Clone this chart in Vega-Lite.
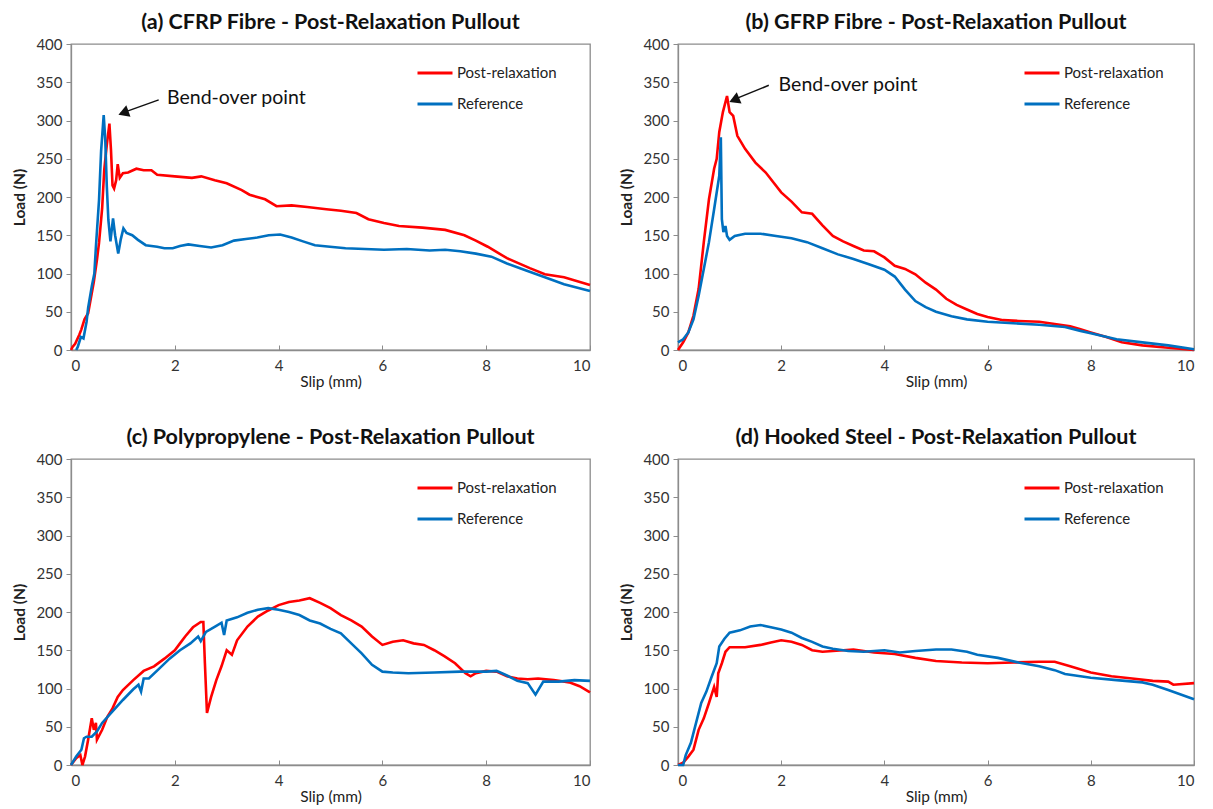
{
"$schema": "https://vega.github.io/schema/vega-lite/v6.json",
"padding": {"left": 12, "top": 10, "right": 5, "bottom": 5},
"background": "white",
"config": {
  "font": "Lato",
  "view": {"stroke": "#8c8c8c", "strokeWidth": 1.3},
  "axis": {"grid": false, "domainColor": "#8c8c8c", "domainWidth": 1.3, "tickColor": "#8c8c8c", "labelFont": "Lato", "labelFontSize": 15, "labelColor": "#333333", "titleFont": "Lato", "titleFontSize": 15.5, "titleColor": "#222222"},
  "axisX": {"tickSize": -5, "labelPadding": 13, "titleFontWeight": "normal", "titlePadding": 1},
  "axisY": {"tickSize": 5, "labelPadding": 4, "titleFontWeight": "bold", "titlePadding": 8},
  "title": {"font": "Lato", "fontSize": 21.5, "fontWeight": "bold", "color": "#111111", "offset": 4, "frame": "group", "anchor": "middle"},
  "legend": {"orient": "none", "symbolType": "stroke", "symbolSize": 1225, "symbolStrokeWidth": 3, "labelFont": "Lato", "labelFontSize": 15, "labelColor": "#222222", "rowPadding": 4, "padding": 0, "labelOffset": 3, "legendX": 345, "legendY": 10, "title": null}
},
"datasets": {
"a": [
{"series":"Post-relaxation","slip":0,"load":0},{"series":"Post-relaxation","slip":0.03,"load":4},{"series":"Post-relaxation","slip":0.08,"load":8},{"series":"Post-relaxation","slip":0.16,"load":20},{"series":"Post-relaxation","slip":0.2,"load":27},{"series":"Post-relaxation","slip":0.26,"load":40},{"series":"Post-relaxation","slip":0.33,"load":48},{"series":"Post-relaxation","slip":0.4,"load":74},{"series":"Post-relaxation","slip":0.44,"load":89},{"series":"Post-relaxation","slip":0.5,"load":118},{"series":"Post-relaxation","slip":0.54,"load":140},{"series":"Post-relaxation","slip":0.6,"load":185},{"series":"Post-relaxation","slip":0.64,"load":235},{"series":"Post-relaxation","slip":0.69,"load":268},{"series":"Post-relaxation","slip":0.74,"load":296},{"series":"Post-relaxation","slip":0.77,"load":262},{"series":"Post-relaxation","slip":0.8,"load":215},{"series":"Post-relaxation","slip":0.83,"load":211},{"series":"Post-relaxation","slip":0.87,"load":222},{"series":"Post-relaxation","slip":0.9,"load":243},{"series":"Post-relaxation","slip":0.94,"load":225},{"series":"Post-relaxation","slip":1.0,"load":231},{"series":"Post-relaxation","slip":1.1,"load":232},{"series":"Post-relaxation","slip":1.26,"load":237},{"series":"Post-relaxation","slip":1.4,"load":235},{"series":"Post-relaxation","slip":1.55,"load":235},{"series":"Post-relaxation","slip":1.66,"load":229},{"series":"Post-relaxation","slip":2.0,"load":227},{"series":"Post-relaxation","slip":2.33,"load":225},{"series":"Post-relaxation","slip":2.51,"load":227},{"series":"Post-relaxation","slip":2.77,"load":222},{"series":"Post-relaxation","slip":3.0,"load":218},{"series":"Post-relaxation","slip":3.29,"load":209},{"series":"Post-relaxation","slip":3.44,"load":203},{"series":"Post-relaxation","slip":3.74,"load":197},{"series":"Post-relaxation","slip":3.96,"load":188},{"series":"Post-relaxation","slip":4.25,"load":189},{"series":"Post-relaxation","slip":4.55,"load":187},{"series":"Post-relaxation","slip":4.92,"load":184},{"series":"Post-relaxation","slip":5.2,"load":182},{"series":"Post-relaxation","slip":5.5,"load":179},{"series":"Post-relaxation","slip":5.73,"load":171},{"series":"Post-relaxation","slip":6.03,"load":166},{"series":"Post-relaxation","slip":6.32,"load":162},{"series":"Post-relaxation","slip":6.77,"load":160},{"series":"Post-relaxation","slip":7.21,"load":157},{"series":"Post-relaxation","slip":7.58,"load":150},{"series":"Post-relaxation","slip":7.8,"load":143},{"series":"Post-relaxation","slip":8.03,"load":135},{"series":"Post-relaxation","slip":8.4,"load":120},{"series":"Post-relaxation","slip":8.84,"load":107},{"series":"Post-relaxation","slip":9.13,"load":99},{"series":"Post-relaxation","slip":9.5,"load":95},{"series":"Post-relaxation","slip":10,"load":85},
{"series":"Reference","slip":0.1,"load":0},{"series":"Reference","slip":0.13,"load":4},{"series":"Reference","slip":0.19,"load":17},{"series":"Reference","slip":0.24,"load":15},{"series":"Reference","slip":0.3,"load":37},{"series":"Reference","slip":0.33,"load":55},{"series":"Reference","slip":0.4,"load":83},{"series":"Reference","slip":0.45,"load":100},{"series":"Reference","slip":0.48,"load":135},{"series":"Reference","slip":0.54,"load":196},{"series":"Reference","slip":0.58,"load":260},{"series":"Reference","slip":0.63,"load":307},{"series":"Reference","slip":0.66,"load":275},{"series":"Reference","slip":0.69,"load":214},{"series":"Reference","slip":0.72,"load":170},{"series":"Reference","slip":0.76,"load":142},{"series":"Reference","slip":0.81,"load":172},{"series":"Reference","slip":0.85,"load":150},{"series":"Reference","slip":0.91,"load":126},{"series":"Reference","slip":0.96,"load":145},{"series":"Reference","slip":1.01,"load":159},{"series":"Reference","slip":1.07,"load":153},{"series":"Reference","slip":1.18,"load":150},{"series":"Reference","slip":1.29,"load":144},{"series":"Reference","slip":1.44,"load":137},{"series":"Reference","slip":1.66,"load":135},{"series":"Reference","slip":1.8,"load":133},{"series":"Reference","slip":1.96,"load":133},{"series":"Reference","slip":2.1,"load":136},{"series":"Reference","slip":2.26,"load":138},{"series":"Reference","slip":2.48,"load":136},{"series":"Reference","slip":2.7,"load":134},{"series":"Reference","slip":2.92,"load":137},{"series":"Reference","slip":3.14,"load":143},{"series":"Reference","slip":3.37,"load":145},{"series":"Reference","slip":3.59,"load":147},{"series":"Reference","slip":3.81,"load":150},{"series":"Reference","slip":4.03,"load":151},{"series":"Reference","slip":4.25,"load":147},{"series":"Reference","slip":4.47,"load":142},{"series":"Reference","slip":4.7,"load":137},{"series":"Reference","slip":4.99,"load":135},{"series":"Reference","slip":5.29,"load":133},{"series":"Reference","slip":5.66,"load":132},{"series":"Reference","slip":6.03,"load":131},{"series":"Reference","slip":6.47,"load":132},{"series":"Reference","slip":6.91,"load":130},{"series":"Reference","slip":7.21,"load":131},{"series":"Reference","slip":7.5,"load":129},{"series":"Reference","slip":7.8,"load":126},{"series":"Reference","slip":8.1,"load":122},{"series":"Reference","slip":8.4,"load":113},{"series":"Reference","slip":8.77,"load":104},{"series":"Reference","slip":9.13,"load":95},{"series":"Reference","slip":9.5,"load":86},{"series":"Reference","slip":10,"load":77}
],
"b": [
{"series":"Post-relaxation","slip":0,"load":0},{"series":"Post-relaxation","slip":0.1,"load":10},{"series":"Post-relaxation","slip":0.2,"load":23},{"series":"Post-relaxation","slip":0.3,"load":45},{"series":"Post-relaxation","slip":0.4,"load":80},{"series":"Post-relaxation","slip":0.5,"load":141},{"series":"Post-relaxation","slip":0.6,"load":197},{"series":"Post-relaxation","slip":0.7,"load":237},{"series":"Post-relaxation","slip":0.75,"load":250},{"series":"Post-relaxation","slip":0.8,"load":285},{"series":"Post-relaxation","slip":0.87,"load":311},{"series":"Post-relaxation","slip":0.95,"load":332},{"series":"Post-relaxation","slip":1.0,"load":311},{"series":"Post-relaxation","slip":1.07,"load":306},{"series":"Post-relaxation","slip":1.15,"load":280},{"series":"Post-relaxation","slip":1.3,"load":263},{"series":"Post-relaxation","slip":1.5,"load":245},{"series":"Post-relaxation","slip":1.7,"load":232},{"series":"Post-relaxation","slip":2.0,"load":206},{"series":"Post-relaxation","slip":2.2,"load":194},{"series":"Post-relaxation","slip":2.4,"load":180},{"series":"Post-relaxation","slip":2.6,"load":178},{"series":"Post-relaxation","slip":2.8,"load":163},{"series":"Post-relaxation","slip":3.0,"load":149},{"series":"Post-relaxation","slip":3.2,"load":142},{"series":"Post-relaxation","slip":3.4,"load":136},{"series":"Post-relaxation","slip":3.6,"load":130},{"series":"Post-relaxation","slip":3.8,"load":129},{"series":"Post-relaxation","slip":4.0,"load":121},{"series":"Post-relaxation","slip":4.2,"load":110},{"series":"Post-relaxation","slip":4.4,"load":106},{"series":"Post-relaxation","slip":4.6,"load":99},{"series":"Post-relaxation","slip":4.8,"load":88},{"series":"Post-relaxation","slip":5.0,"load":79},{"series":"Post-relaxation","slip":5.2,"load":67},{"series":"Post-relaxation","slip":5.4,"load":59},{"series":"Post-relaxation","slip":5.6,"load":53},{"series":"Post-relaxation","slip":5.8,"load":47},{"series":"Post-relaxation","slip":6.0,"load":43},{"series":"Post-relaxation","slip":6.3,"load":39},{"series":"Post-relaxation","slip":6.6,"load":38},{"series":"Post-relaxation","slip":7.0,"load":37},{"series":"Post-relaxation","slip":7.3,"load":34},{"series":"Post-relaxation","slip":7.6,"load":31},{"series":"Post-relaxation","slip":7.8,"load":27},{"series":"Post-relaxation","slip":8.0,"load":23},{"series":"Post-relaxation","slip":8.3,"load":17},{"series":"Post-relaxation","slip":8.6,"load":10},{"series":"Post-relaxation","slip":9.0,"load":6},{"series":"Post-relaxation","slip":9.5,"load":3},{"series":"Post-relaxation","slip":10,"load":0},
{"series":"Reference","slip":0,"load":10},{"series":"Reference","slip":0.1,"load":14},{"series":"Reference","slip":0.2,"load":23},{"series":"Reference","slip":0.3,"load":40},{"series":"Reference","slip":0.4,"load":71},{"series":"Reference","slip":0.5,"load":106},{"series":"Reference","slip":0.6,"load":141},{"series":"Reference","slip":0.7,"load":184},{"series":"Reference","slip":0.8,"load":228},{"series":"Reference","slip":0.83,"load":278},{"series":"Reference","slip":0.85,"load":171},{"series":"Reference","slip":0.88,"load":154},{"series":"Reference","slip":0.92,"load":162},{"series":"Reference","slip":0.95,"load":149},{"series":"Reference","slip":1.0,"load":144},{"series":"Reference","slip":1.1,"load":149},{"series":"Reference","slip":1.3,"load":152},{"series":"Reference","slip":1.6,"load":152},{"series":"Reference","slip":1.9,"load":149},{"series":"Reference","slip":2.2,"load":146},{"series":"Reference","slip":2.5,"load":141},{"series":"Reference","slip":2.8,"load":133},{"series":"Reference","slip":3.1,"load":125},{"series":"Reference","slip":3.4,"load":119},{"series":"Reference","slip":3.7,"load":112},{"series":"Reference","slip":4.0,"load":105},{"series":"Reference","slip":4.2,"load":96},{"series":"Reference","slip":4.4,"load":79},{"series":"Reference","slip":4.6,"load":64},{"series":"Reference","slip":4.8,"load":56},{"series":"Reference","slip":5.0,"load":50},{"series":"Reference","slip":5.3,"load":44},{"series":"Reference","slip":5.6,"load":40},{"series":"Reference","slip":6.0,"load":37},{"series":"Reference","slip":6.5,"load":35},{"series":"Reference","slip":7.0,"load":33},{"series":"Reference","slip":7.5,"load":30},{"series":"Reference","slip":7.8,"load":25},{"series":"Reference","slip":8.0,"load":22},{"series":"Reference","slip":8.5,"load":14},{"series":"Reference","slip":9.0,"load":10},{"series":"Reference","slip":9.5,"load":6},{"series":"Reference","slip":10,"load":1}
],
"c": [
{"series":"Post-relaxation","slip":0,"load":0},{"series":"Post-relaxation","slip":0.1,"load":9},{"series":"Post-relaxation","slip":0.18,"load":13},{"series":"Post-relaxation","slip":0.22,"load":0},{"series":"Post-relaxation","slip":0.27,"load":11},{"series":"Post-relaxation","slip":0.33,"load":33},{"series":"Post-relaxation","slip":0.4,"load":61},{"series":"Post-relaxation","slip":0.44,"load":46},{"series":"Post-relaxation","slip":0.48,"load":55},{"series":"Post-relaxation","slip":0.5,"load":33},{"series":"Post-relaxation","slip":0.6,"load":46},{"series":"Post-relaxation","slip":0.7,"load":63},{"series":"Post-relaxation","slip":0.8,"load":74},{"series":"Post-relaxation","slip":0.9,"load":89},{"series":"Post-relaxation","slip":1.0,"load":98},{"series":"Post-relaxation","slip":1.2,"load":111},{"series":"Post-relaxation","slip":1.4,"load":123},{"series":"Post-relaxation","slip":1.6,"load":129},{"series":"Post-relaxation","slip":1.8,"load":139},{"series":"Post-relaxation","slip":2.0,"load":150},{"series":"Post-relaxation","slip":2.1,"load":159},{"series":"Post-relaxation","slip":2.2,"load":168},{"series":"Post-relaxation","slip":2.35,"load":180},{"series":"Post-relaxation","slip":2.5,"load":187},{"series":"Post-relaxation","slip":2.55,"load":187},{"series":"Post-relaxation","slip":2.58,"load":133},{"series":"Post-relaxation","slip":2.62,"load":68},{"series":"Post-relaxation","slip":2.7,"load":89},{"series":"Post-relaxation","slip":2.8,"load":111},{"series":"Post-relaxation","slip":2.9,"load":129},{"series":"Post-relaxation","slip":3.0,"load":150},{"series":"Post-relaxation","slip":3.1,"load":144},{"series":"Post-relaxation","slip":3.2,"load":163},{"series":"Post-relaxation","slip":3.4,"load":181},{"series":"Post-relaxation","slip":3.6,"load":194},{"series":"Post-relaxation","slip":3.8,"load":202},{"series":"Post-relaxation","slip":4.0,"load":209},{"series":"Post-relaxation","slip":4.2,"load":213},{"series":"Post-relaxation","slip":4.4,"load":215},{"series":"Post-relaxation","slip":4.6,"load":218},{"series":"Post-relaxation","slip":4.8,"load":212},{"series":"Post-relaxation","slip":5.0,"load":205},{"series":"Post-relaxation","slip":5.2,"load":196},{"series":"Post-relaxation","slip":5.4,"load":189},{"series":"Post-relaxation","slip":5.6,"load":181},{"series":"Post-relaxation","slip":5.8,"load":168},{"series":"Post-relaxation","slip":6.0,"load":157},{"series":"Post-relaxation","slip":6.2,"load":161},{"series":"Post-relaxation","slip":6.4,"load":163},{"series":"Post-relaxation","slip":6.6,"load":159},{"series":"Post-relaxation","slip":6.8,"load":157},{"series":"Post-relaxation","slip":7.0,"load":150},{"series":"Post-relaxation","slip":7.2,"load":142},{"series":"Post-relaxation","slip":7.4,"load":133},{"series":"Post-relaxation","slip":7.6,"load":120},{"series":"Post-relaxation","slip":7.7,"load":116},{"series":"Post-relaxation","slip":7.8,"load":120},{"series":"Post-relaxation","slip":8.0,"load":123},{"series":"Post-relaxation","slip":8.2,"load":122},{"series":"Post-relaxation","slip":8.4,"load":116},{"series":"Post-relaxation","slip":8.6,"load":113},{"series":"Post-relaxation","slip":8.8,"load":112},{"series":"Post-relaxation","slip":9.0,"load":113},{"series":"Post-relaxation","slip":9.3,"load":111},{"series":"Post-relaxation","slip":9.6,"load":108},{"series":"Post-relaxation","slip":9.8,"load":103},{"series":"Post-relaxation","slip":10,"load":95},
{"series":"Reference","slip":0,"load":0},{"series":"Reference","slip":0.1,"load":11},{"series":"Reference","slip":0.2,"load":20},{"series":"Reference","slip":0.25,"load":35},{"series":"Reference","slip":0.3,"load":37},{"series":"Reference","slip":0.4,"load":37},{"series":"Reference","slip":0.5,"load":44},{"series":"Reference","slip":0.6,"load":55},{"series":"Reference","slip":0.8,"load":70},{"series":"Reference","slip":1.0,"load":85},{"series":"Reference","slip":1.2,"load":99},{"series":"Reference","slip":1.3,"load":105},{"series":"Reference","slip":1.35,"load":96},{"series":"Reference","slip":1.4,"load":113},{"series":"Reference","slip":1.5,"load":113},{"series":"Reference","slip":1.7,"load":126},{"series":"Reference","slip":1.9,"load":139},{"series":"Reference","slip":2.1,"load":150},{"series":"Reference","slip":2.3,"load":159},{"series":"Reference","slip":2.45,"load":168},{"series":"Reference","slip":2.5,"load":162},{"series":"Reference","slip":2.6,"load":174},{"series":"Reference","slip":2.8,"load":182},{"series":"Reference","slip":2.9,"load":186},{"series":"Reference","slip":2.95,"load":170},{"series":"Reference","slip":3.0,"load":189},{"series":"Reference","slip":3.2,"load":193},{"series":"Reference","slip":3.4,"load":199},{"series":"Reference","slip":3.6,"load":203},{"series":"Reference","slip":3.8,"load":205},{"series":"Reference","slip":4.0,"load":203},{"series":"Reference","slip":4.2,"load":200},{"series":"Reference","slip":4.4,"load":196},{"series":"Reference","slip":4.6,"load":189},{"series":"Reference","slip":4.8,"load":185},{"series":"Reference","slip":5.0,"load":178},{"series":"Reference","slip":5.2,"load":172},{"series":"Reference","slip":5.4,"load":159},{"series":"Reference","slip":5.6,"load":146},{"series":"Reference","slip":5.8,"load":131},{"series":"Reference","slip":6.0,"load":122},{"series":"Reference","slip":6.2,"load":121},{"series":"Reference","slip":6.5,"load":120},{"series":"Reference","slip":7.0,"load":121},{"series":"Reference","slip":7.5,"load":122},{"series":"Reference","slip":8.0,"load":122},{"series":"Reference","slip":8.2,"load":123},{"series":"Reference","slip":8.4,"load":117},{"series":"Reference","slip":8.6,"load":110},{"series":"Reference","slip":8.8,"load":107},{"series":"Reference","slip":8.95,"load":92},{"series":"Reference","slip":9.1,"load":109},{"series":"Reference","slip":9.4,"load":109},{"series":"Reference","slip":9.7,"load":111},{"series":"Reference","slip":10,"load":110}
],
"d": [
{"series":"Post-relaxation","slip":0,"load":0},{"series":"Post-relaxation","slip":0.1,"load":3},{"series":"Post-relaxation","slip":0.2,"load":11},{"series":"Post-relaxation","slip":0.3,"load":20},{"series":"Post-relaxation","slip":0.4,"load":46},{"series":"Post-relaxation","slip":0.5,"load":61},{"series":"Post-relaxation","slip":0.6,"load":81},{"series":"Post-relaxation","slip":0.7,"load":102},{"series":"Post-relaxation","slip":0.75,"load":89},{"series":"Post-relaxation","slip":0.78,"load":120},{"series":"Post-relaxation","slip":0.85,"load":133},{"series":"Post-relaxation","slip":0.92,"load":148},{"series":"Post-relaxation","slip":1.0,"load":154},{"series":"Post-relaxation","slip":1.3,"load":154},{"series":"Post-relaxation","slip":1.6,"load":157},{"series":"Post-relaxation","slip":1.8,"load":160},{"series":"Post-relaxation","slip":2.0,"load":163},{"series":"Post-relaxation","slip":2.2,"load":161},{"series":"Post-relaxation","slip":2.4,"load":157},{"series":"Post-relaxation","slip":2.6,"load":150},{"series":"Post-relaxation","slip":2.8,"load":148},{"series":"Post-relaxation","slip":3.0,"load":149},{"series":"Post-relaxation","slip":3.4,"load":151},{"series":"Post-relaxation","slip":3.8,"load":147},{"series":"Post-relaxation","slip":4.2,"load":145},{"series":"Post-relaxation","slip":4.6,"load":140},{"series":"Post-relaxation","slip":5.0,"load":136},{"series":"Post-relaxation","slip":5.5,"load":134},{"series":"Post-relaxation","slip":6.0,"load":133},{"series":"Post-relaxation","slip":6.5,"load":134},{"series":"Post-relaxation","slip":7.0,"load":135},{"series":"Post-relaxation","slip":7.3,"load":135},{"series":"Post-relaxation","slip":7.6,"load":129},{"series":"Post-relaxation","slip":8.0,"load":121},{"series":"Post-relaxation","slip":8.4,"load":116},{"series":"Post-relaxation","slip":8.8,"load":113},{"series":"Post-relaxation","slip":9.2,"load":110},{"series":"Post-relaxation","slip":9.5,"load":109},{"series":"Post-relaxation","slip":9.6,"load":105},{"series":"Post-relaxation","slip":10,"load":107},
{"series":"Reference","slip":0,"load":0},{"series":"Reference","slip":0.1,"load":0},{"series":"Reference","slip":0.15,"load":13},{"series":"Reference","slip":0.25,"load":29},{"series":"Reference","slip":0.35,"load":55},{"series":"Reference","slip":0.45,"load":81},{"series":"Reference","slip":0.55,"load":96},{"series":"Reference","slip":0.65,"load":115},{"series":"Reference","slip":0.75,"load":133},{"series":"Reference","slip":0.8,"load":155},{"series":"Reference","slip":0.9,"load":165},{"series":"Reference","slip":1.0,"load":173},{"series":"Reference","slip":1.2,"load":176},{"series":"Reference","slip":1.4,"load":181},{"series":"Reference","slip":1.6,"load":183},{"series":"Reference","slip":1.8,"load":180},{"series":"Reference","slip":2.0,"load":177},{"series":"Reference","slip":2.2,"load":173},{"series":"Reference","slip":2.4,"load":166},{"series":"Reference","slip":2.6,"load":161},{"series":"Reference","slip":2.8,"load":155},{"series":"Reference","slip":3.0,"load":152},{"series":"Reference","slip":3.3,"load":149},{"series":"Reference","slip":3.6,"load":148},{"series":"Reference","slip":4.0,"load":150},{"series":"Reference","slip":4.3,"load":147},{"series":"Reference","slip":4.6,"load":149},{"series":"Reference","slip":5.0,"load":151},{"series":"Reference","slip":5.3,"load":151},{"series":"Reference","slip":5.6,"load":148},{"series":"Reference","slip":5.8,"load":144},{"series":"Reference","slip":6.2,"load":140},{"series":"Reference","slip":6.6,"load":134},{"series":"Reference","slip":7.0,"load":129},{"series":"Reference","slip":7.3,"load":124},{"series":"Reference","slip":7.5,"load":119},{"series":"Reference","slip":7.8,"load":116},{"series":"Reference","slip":8.0,"load":114},{"series":"Reference","slip":8.5,"load":111},{"series":"Reference","slip":9.0,"load":108},{"series":"Reference","slip":9.2,"load":105},{"series":"Reference","slip":9.5,"load":98},{"series":"Reference","slip":10,"load":86}
]
},
"columns": 2,
"spacing": {"row": 34, "column": 23},
"resolve": {"scale": {"color": "independent"}, "legend": {"color": "independent"}},
"concat": [
{
 "width": 519, "height": 306,
 "title": {"text": "(a)  CFRP Fibre - Post-Relaxation Pullout"},
 "encoding": {
  "x": {"field": "slip", "type": "quantitative", "scale": {"domain": [0, 10], "nice": false}, "axis": {"values": [0, 2, 4, 6, 8, 10]}, "title": "Slip (mm)"},
  "y": {"field": "load", "type": "quantitative", "scale": {"domain": [0, 400], "nice": false}, "axis": {"values": [0, 50, 100, 150, 200, 250, 300, 350, 400]}, "title": "Load (N)"}
 },
 "layer": [
  {"data": {"name": "a"}, "mark": {"type": "line", "strokeWidth": 2.6},
   "encoding": {
    "color": {"field": "series", "type": "nominal", "scale": {"domain": ["Post-relaxation", "Reference"], "range": ["#ff0000", "#0070c0"]}, "legend": {"title": null}}
   }},
  {"data": {"values": [{"slip": 1.85, "load": 330, "label": "Bend-over point"}]}, "mark": {"type": "text", "align": "left", "baseline": "middle", "fontSize": 19.5, "font": "Lato", "color": "#111111"},
   "encoding": {"text": {"field": "label"}}},
  {"data": {"values": [{"slip": 1.69, "load": 327, "slip2": 0.95, "load2": 309}]}, "mark": {"type": "rule", "strokeWidth": 1.5, "color": "#111111"},
   "encoding": {"x2": {"field": "slip2"}, "y2": {"field": "load2"}}},
  {"data": {"values": [{"slip": 1.01, "load": 310}]}, "mark": {"type": "point", "shape": "triangle-up", "filled": true, "color": "#111111", "opacity": 1, "size": 150, "angle": 250},
   "encoding": {}}
 ]
},
{
 "width": 516, "height": 306,
 "title": {"text": "(b)  GFRP Fibre - Post-Relaxation Pullout"},
 "encoding": {
  "x": {"field": "slip", "type": "quantitative", "scale": {"domain": [0, 10], "nice": false}, "axis": {"values": [0, 2, 4, 6, 8, 10]}, "title": "Slip (mm)"},
  "y": {"field": "load", "type": "quantitative", "scale": {"domain": [0, 400], "nice": false}, "axis": {"values": [0, 50, 100, 150, 200, 250, 300, 350, 400]}, "title": "Load (N)"}
 },
 "layer": [
  {"data": {"name": "b"}, "mark": {"type": "line", "strokeWidth": 2.6},
   "encoding": {
    "color": {"field": "series", "type": "nominal", "scale": {"domain": ["Post-relaxation", "Reference"], "range": ["#ff0000", "#0070c0"]}, "legend": {"title": null}}
   }},
  {"data": {"values": [{"slip": 1.95, "load": 347, "label": "Bend-over point"}]}, "mark": {"type": "text", "align": "left", "baseline": "middle", "fontSize": 19.5, "font": "Lato", "color": "#111111"},
   "encoding": {"text": {"field": "label"}}},
  {"data": {"values": [{"slip": 1.76, "load": 346, "slip2": 1.03, "load2": 326}]}, "mark": {"type": "rule", "strokeWidth": 1.5, "color": "#111111"},
   "encoding": {"x2": {"field": "slip2"}, "y2": {"field": "load2"}}},
  {"data": {"values": [{"slip": 1.09, "load": 327}]}, "mark": {"type": "point", "shape": "triangle-up", "filled": true, "color": "#111111", "opacity": 1, "size": 150, "angle": 247},
   "encoding": {}}
 ]
},
{
 "width": 519, "height": 306,
 "title": {"text": "(c)  Polypropylene - Post-Relaxation Pullout"},
 "data": {"name": "c"},
 "mark": {"type": "line", "strokeWidth": 2.6},
 "encoding": {
  "x": {"field": "slip", "type": "quantitative", "scale": {"domain": [0, 10], "nice": false}, "axis": {"values": [0, 2, 4, 6, 8, 10]}, "title": "Slip (mm)"},
  "y": {"field": "load", "type": "quantitative", "scale": {"domain": [0, 400], "nice": false}, "axis": {"values": [0, 50, 100, 150, 200, 250, 300, 350, 400]}, "title": "Load (N)"},
  "color": {"field": "series", "type": "nominal", "scale": {"domain": ["Post-relaxation", "Reference"], "range": ["#ff0000", "#0070c0"]}, "legend": {"title": null}}
 }
},
{
 "width": 516, "height": 306,
 "title": {"text": "(d)  Hooked Steel - Post-Relaxation Pullout"},
 "data": {"name": "d"},
 "mark": {"type": "line", "strokeWidth": 2.6},
 "encoding": {
  "x": {"field": "slip", "type": "quantitative", "scale": {"domain": [0, 10], "nice": false}, "axis": {"values": [0, 2, 4, 6, 8, 10]}, "title": "Slip (mm)"},
  "y": {"field": "load", "type": "quantitative", "scale": {"domain": [0, 400], "nice": false}, "axis": {"values": [0, 50, 100, 150, 200, 250, 300, 350, 400]}, "title": "Load (N)"},
  "color": {"field": "series", "type": "nominal", "scale": {"domain": ["Post-relaxation", "Reference"], "range": ["#ff0000", "#0070c0"]}, "legend": {"title": null}}
 }
}
]
}
